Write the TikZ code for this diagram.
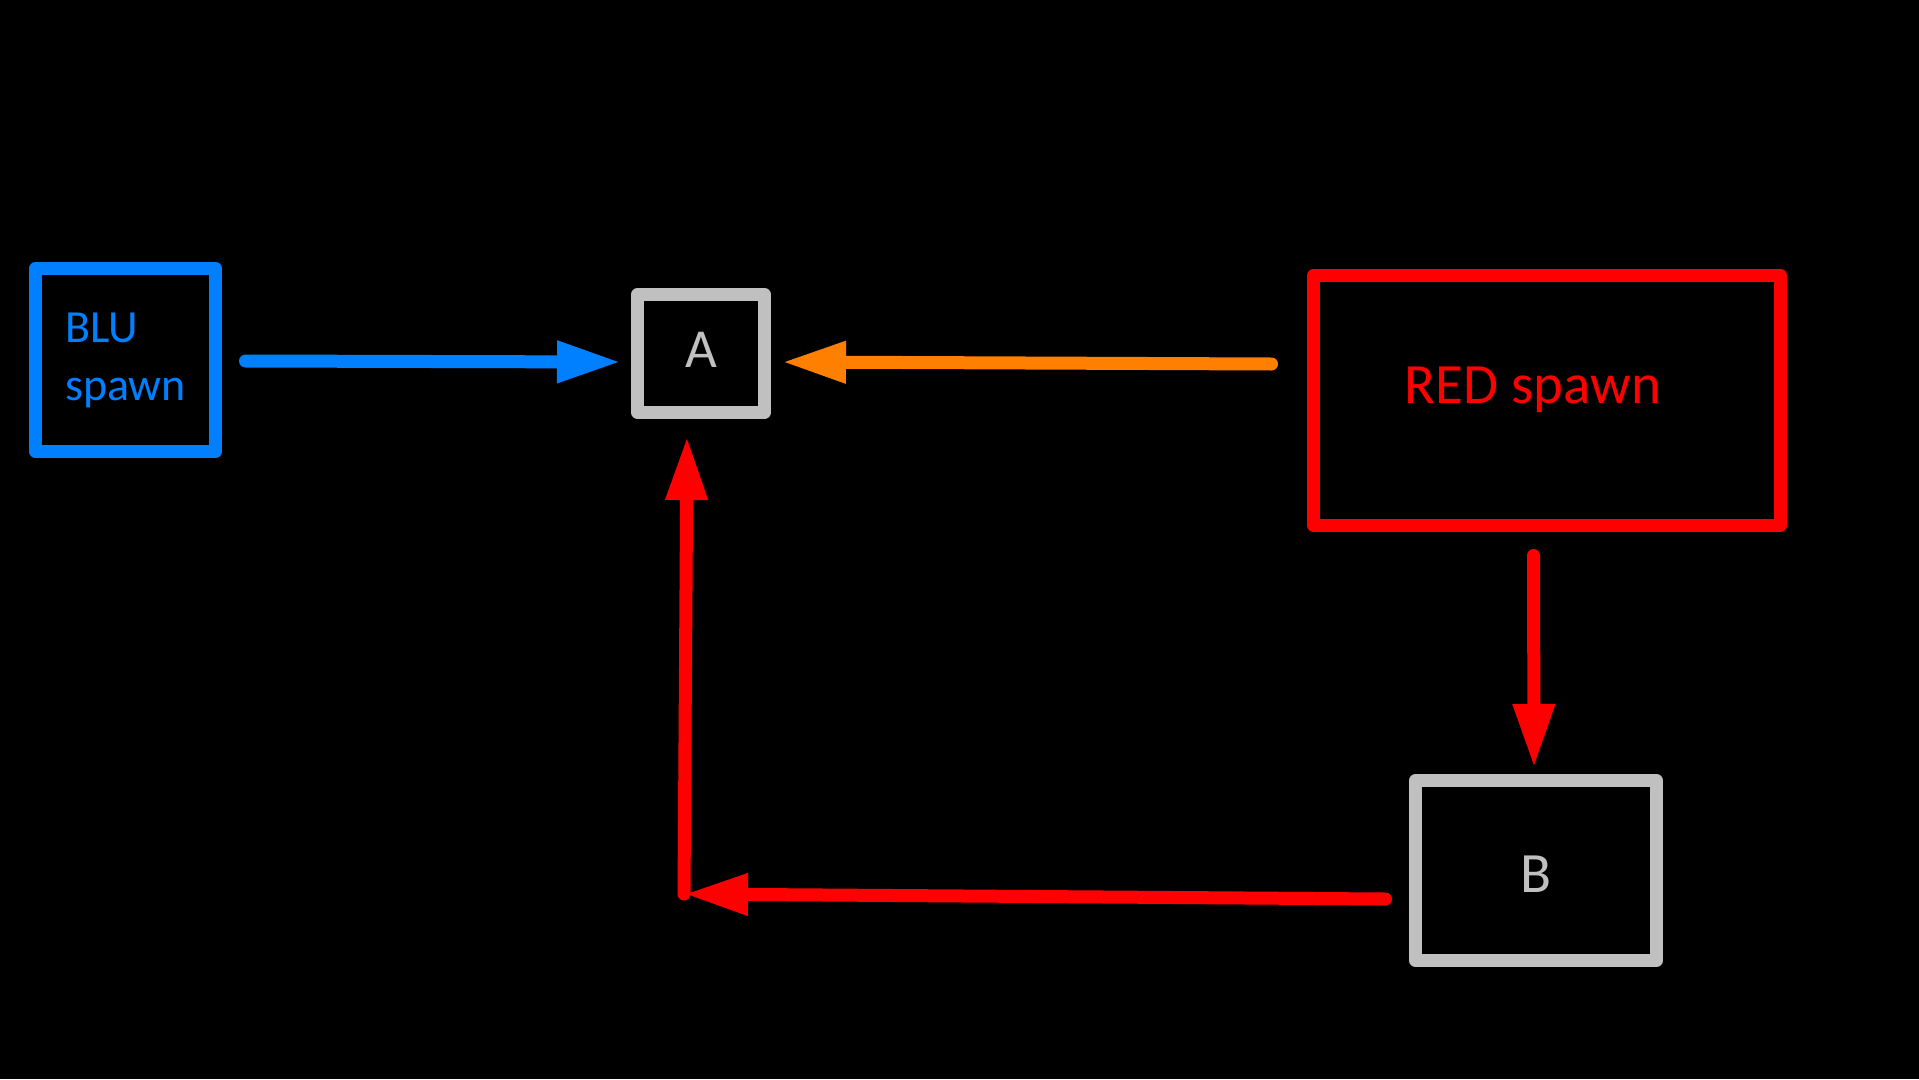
\documentclass[tikz,border=0pt]{standalone}
\usepackage{fontspec}
\setmainfont{Carlito}
\usetikzlibrary{arrows.meta,positioning,calc}
\definecolor{bluteam}{RGB}{0,128,255}
\definecolor{redteam}{RGB}{255,0,0}
\definecolor{pointgray}{RGB}{192,192,192}
\definecolor{flankorange}{RGB}{255,128,0}

\begin{document}
\begin{tikzpicture}[x=1pt,y=-1pt,>={Triangle[length=64pt,width=39pt]},
  spawnbox/.style={draw,line width=13pt,line join=round,inner sep=0pt},
  pointbox/.style={draw=pointgray,line width=13pt,line join=round,inner sep=0pt,text=pointgray},
  route/.style={line width=13pt,line cap=round,->}]
\fill[black] (0,0) rectangle (1919,1079);
% spawns
\node[spawnbox,draw=bluteam,text=bluteam,minimum width=180pt,minimum height=183pt,
  align=left,font=\fontsize{46}{58}\selectfont] (blu) at (125.5,360) {BLU\\spawn};
\node[spawnbox,draw=redteam,minimum width=467pt,minimum height=250pt] (red) at (1547,400.5) {};
\node[text=redteam,anchor=base,font=\fontsize{57}{60}\selectfont] (redlabel) at (1533,403) {RED spawn};
% capture points
\node[pointbox,minimum width=127pt,minimum height=118pt,text depth=8pt,
  font=\fontsize{55}{60}\selectfont] (a) at (701,353.5) {A};
\node[pointbox,minimum width=241pt,minimum height=180pt,text height=43pt,
  font=\fontsize{57}{60}\selectfont] (b) at (1536,870.5) {B};
\coordinate (corner) at (684,894);
% routes
\draw[route,bluteam] ($(blu.east)+(23.5,1)$) -- ($(a.west)+(-10,8.5)$);
\draw[route,flankorange] ($(red.west)+(-35.5,-36.5)$) -- ($(a.east)+(11,8.5)$);
\draw[route,redteam] ($(red.south)+(-13.5,23.5)$) -- ($(b.north)+(-2,-6)$);
\draw[route,redteam] ($(b.west)+(-23.5,28.5)$) -- (corner);
\draw[route,redteam] (corner) -- ($(a.south)+(-14,17)$);
\end{tikzpicture}
\end{document}
